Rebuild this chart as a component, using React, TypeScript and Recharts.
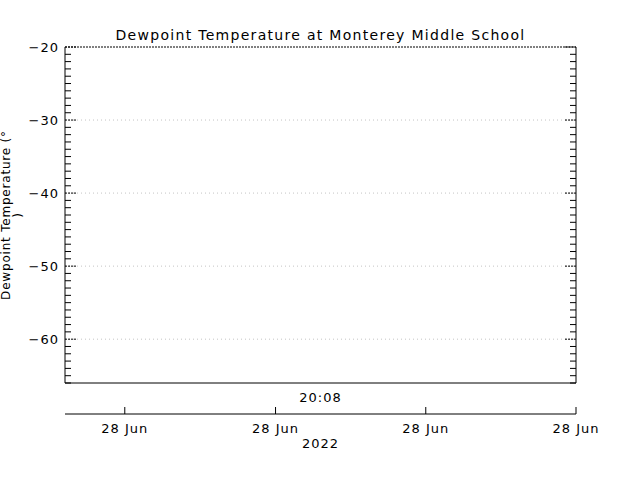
import { LineChart, Line, XAxis, YAxis, CartesianGrid, ReferenceLine } from 'recharts';

// no dewpoint readings were plotted, only the empty frame
const times = [0, 1];
const dewpoint: (number | null)[] = [null, null];

const dateTicks = [0.117, 0.412, 0.706, 1.0];
const dateTickLabels = ['28 Jun', '28 Jun', '28 Jun', '28 Jun'];
const centerTimeLabel = '20:08';
const yearLabel = '2022';

const yMin = -66;
const yMax = -20;
const gridValues = [-60, -50, -40, -30];
const minorTicks = Array.from({ length: yMax - yMin + 1 }, (_, i) => yMin + i);

const FONT = '"DejaVu Sans", sans-serif';
const FS = 13;
const LS = 1;

const data = times.map((t, i) => ({ t, dew: dewpoint[i] }));

function fmtY(v: number): string {
  return v < 0 ? `\u2212${Math.abs(v)}` : `${v}`;
}

function LeftTick(props: any) {
  const { x, y, payload } = props;
  const v = payload.value;
  const major = v % 10 === 0;
  return (
    <g>
      {major ? (
        <line x1={x} x2={x + 11} y1={y} y2={y} stroke="#000" strokeDasharray="2 1" />
      ) : (
        <line x1={x} x2={x + 6} y1={y} y2={y} stroke="#000" />
      )}
      {major && (
        <text x={x - 6} y={y + 5} textAnchor="end" fontFamily={FONT} fontSize={FS} letterSpacing={LS} fill="#000">
          {fmtY(v)}
        </text>
      )}
    </g>
  );
}

function RightTick(props: any) {
  const { x, y, payload } = props;
  const major = payload.value % 10 === 0;
  return major ? (
    <line x1={x} x2={x - 11} y1={y} y2={y} stroke="#000" strokeDasharray="2 1" />
  ) : (
    <line x1={x} x2={x - 6} y1={y} y2={y} stroke="#000" />
  );
}

function DateTick(props: any) {
  const { x, y, index } = props;
  return (
    <g>
      <line x1={x} x2={x} y1={y} y2={y - 7} stroke="#000" />
      <text x={x} y={y + 19} textAnchor="middle" fontFamily={FONT} fontSize={FS} letterSpacing={LS} fill="#000">
        {dateTickLabels[index]}
      </text>
    </g>
  );
}

function DateAxisLabel(props: any) {
  const { viewBox } = props;
  const cx = viewBox.x + viewBox.width / 2;
  const y = viewBox.y;
  return (
    <g fontFamily={FONT} fontSize={FS} letterSpacing={LS} fill="#000">
      <text x={cx} y={y - 12} textAnchor="middle">
        {centerTimeLabel}
      </text>
      <text x={cx} y={y + 34} textAnchor="middle">
        {yearLabel}
      </text>
    </g>
  );
}

function YTitle(props: any) {
  const { viewBox } = props;
  const cy = viewBox.y + viewBox.height / 2;
  return (
    <g fontFamily={FONT} fontSize={12} letterSpacing={0.8} fill="#000">
      <text x={10} y={cy} textAnchor="middle" transform={`rotate(-90, 10, ${cy})`}>
        Dewpoint Temperature (°
      </text>
      <text x={22} y={cy} textAnchor="middle" transform={`rotate(-90, 22, ${cy})`}>
        )
      </text>
    </g>
  );
}

export default function App() {
  return (
    <div style={{ position: 'absolute', left: 0, top: 0, width: 640, height: 480, background: '#fff' }}>
      <div
        style={{
          position: 'absolute',
          top: 27,
          left: 0,
          width: 641,
          textAlign: 'center',
          fontFamily: FONT,
          fontSize: 14,
          letterSpacing: 1.3,
          color: '#000',
        }}
      >
        Dewpoint Temperature at Monterey Middle School
      </div>
      <LineChart width={640} height={480} data={data} margin={{ top: 47, right: 0, bottom: 0, left: 0 }}>
        <CartesianGrid
          vertical={false}
          horizontalValues={gridValues}
          stroke="#c4c4c4"
          strokeDasharray="1 3"
        />
        <XAxis
          dataKey="t"
          type="number"
          domain={[0, 1]}
          allowDataOverflow
          tick={false}
          tickLine={false}
          height={31}
          axisLine={{ stroke: '#000' }}
        />
        <XAxis
          xAxisId="date"
          type="number"
          domain={[0, 1]}
          allowDataOverflow
          ticks={dateTicks}
          interval={0}
          height={66}
          tickLine={false}
          tickSize={0}
          tickMargin={0}
          tick={<DateTick />}
          axisLine={{ stroke: '#000' }}
          label={<DateAxisLabel />}
        />
        <YAxis
          type="number"
          domain={[yMin, yMax]}
          allowDataOverflow
          ticks={minorTicks}
          interval={0}
          width={65}
          tickLine={false}
          tickSize={0}
          tickMargin={0}
          tick={<LeftTick />}
          axisLine={{ stroke: '#000' }}
          label={<YTitle />}
        />
        <YAxis
          yAxisId="r"
          orientation="right"
          type="number"
          domain={[yMin, yMax]}
          allowDataOverflow
          ticks={minorTicks}
          interval={0}
          width={64}
          tickLine={false}
          tickSize={0}
          tickMargin={0}
          tick={<RightTick />}
          axisLine={{ stroke: '#000' }}
        />
        <ReferenceLine y={yMax} stroke="#000" strokeDasharray="2 1" ifOverflow="visible" />
        <Line dataKey="dew" stroke="#000" dot={false} isAnimationActive={false} />
      </LineChart>
    </div>
  );
}
